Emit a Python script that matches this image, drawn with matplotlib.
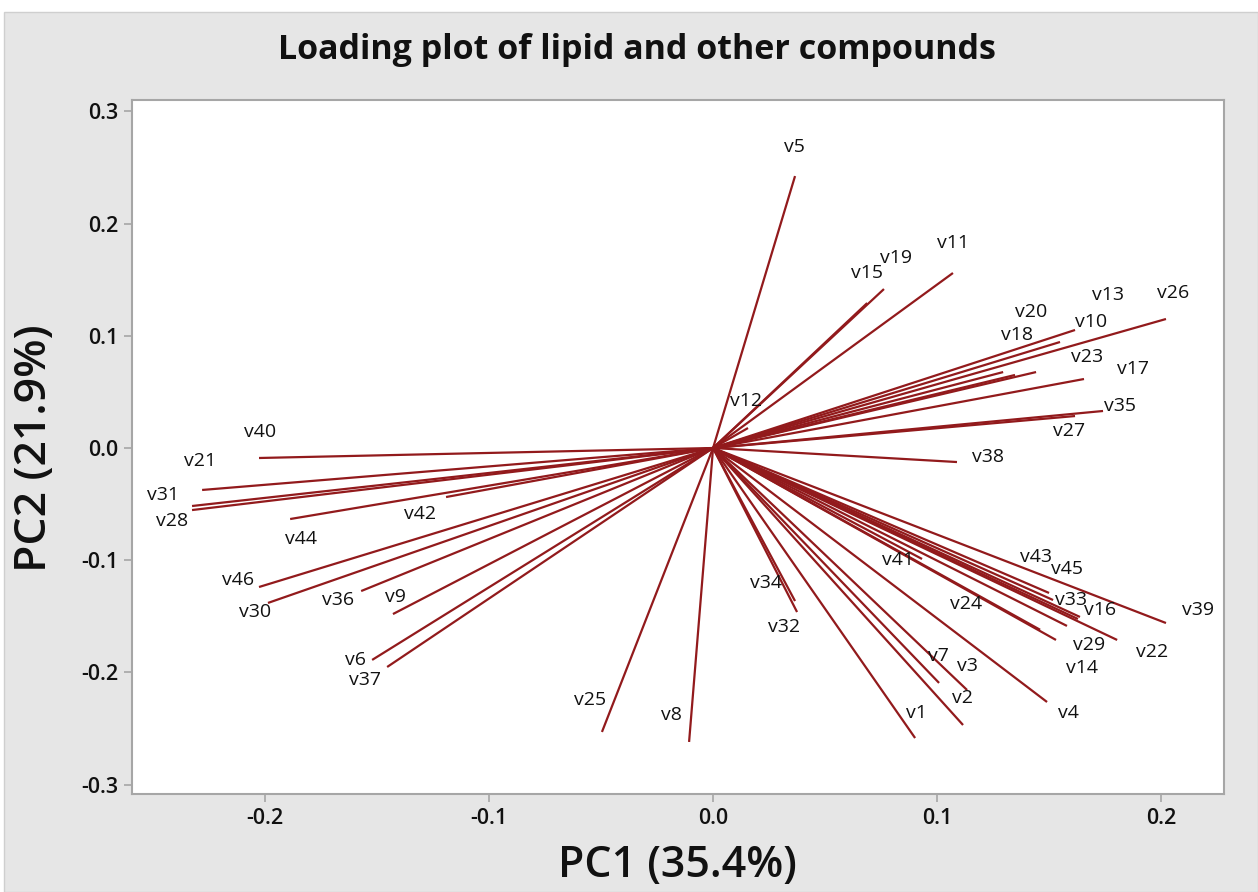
import matplotlib
matplotlib.use("Agg")
import matplotlib.pyplot as plt
from matplotlib.patches import Rectangle

plt.rcParams['font.family'] = ['Open Sans', 'DejaVu Sans']

# ---- data: loadings (PC1, PC2) ----
names = ['v1', 'v2', 'v3', 'v4', 'v5', 'v6', 'v7', 'v8', 'v9', 'v10',
         'v11', 'v12', 'v13', 'v14', 'v15', 'v16', 'v17', 'v18', 'v19', 'v20',
         'v21', 'v22', 'v23', 'v24', 'v25', 'v26', 'v27', 'v28', 'v29', 'v30',
         'v31', 'v32', 'v33', 'v34', 'v35', 'v36', 'v37', 'v38', 'v39', 'v40',
         'v41', 'v42', 'v43', 'v44', 'v45', 'v46']
pc1 = [0.0902, 0.1116, 0.1134, 0.1491, 0.0366, -0.1522, 0.1009, -0.0107, -0.1429, 0.1616,
       0.1071, 0.0156, 0.1442, 0.1531, 0.0688, 0.1638, 0.1348, 0.1295, 0.0763, 0.1549,
       -0.2281, 0.1804, 0.1656, 0.1460, -0.0496, 0.2022, 0.1616, -0.2326, 0.1580, -0.1987,
       -0.2326, 0.0375, 0.1629, 0.0366, 0.1741, -0.1571, -0.1455, 0.1089, 0.2022, -0.2027,
       0.0933, -0.1192, 0.1500, -0.1888, 0.1518, -0.2027]
pc2 = [-0.2585, -0.2469, -0.2157, -0.2264, 0.2424, -0.1889, -0.2094, -0.2620, -0.1480, 0.1052,
       0.1560, 0.0178, 0.0677, -0.1711, 0.1292, -0.1506, 0.0651, 0.0677, 0.1417, 0.0945,
       -0.0374, -0.1711, 0.0615, -0.1620, -0.2531, 0.1150, 0.0285, -0.0553, -0.1586, -0.1381,
       -0.0517, -0.1462, -0.1524, -0.1364, 0.0330, -0.1275, -0.1952, -0.0125, -0.1560, -0.0089,
       -0.0989, -0.0437, -0.1292, -0.0633, -0.1355, -0.1239]

x_ticks = [-0.2, -0.1, 0.0, 0.1, 0.2]
y_ticks = [-0.3, -0.2, -0.1, 0.0, 0.1, 0.2, 0.3]

# label offsets (pixels) from line end, to mimic placement in the reference
label_dx = [1, -1, 0, 21, -1, -17, -1, -18, 2, 16,
            0, -2, 72, 26, 0, 20, 118, 14, 12, -29,
            -2, 35, 3, -74, -12, 7, -6, -20, 22, -13,
            -29, -13, -7, -29, 17, -23, -22, 31, 32, 1,
            -24, -26, -13, 11, 14, -21]
label_dy = [25, 27, 24, -11, 29, 0, 27, 27, 17, 8,
            30, 27, 77, -28, 30, 7, 6, 37, 31, 30,
            29, -12, 22, 26, 32, 26, -15, -11, -19, -9,
            11, -15, 19, 18, 5, -9, -13, 5, 13, 26,
            -1, -17, 36, -20, 31, 7]

W, H = 1258, 892
fig = plt.figure(figsize=(W / 100, H / 100), dpi=100, facecolor='white')
fig.patches.append(Rectangle((4 / W, 0), 1 - 4 / W, 1 - 12 / H, transform=fig.transFigure,
                             facecolor='#e6e6e6', edgecolor='#cfcfcf', lw=1.0, zorder=-10))

ax = fig.add_axes([132 / W, 1 - 794 / H, (1224 - 132) / W, (794 - 100) / H])
ax.set_facecolor('white')

line_color = '#921a1c'
for n, x, y, dx, dy in zip(names, pc1, pc2, label_dx, label_dy):
    ax.plot([0, x], [0, y], color=line_color, lw=1.6, solid_capstyle='butt')
    ax.annotate(n, (x, y), xytext=(dx, dy), textcoords='offset pixels',
                ha='center', va='center', fontsize=14, color='#111111')

ax.set_xlim(-0.2594, 0.2281)
ax.set_ylim(-0.3084, 0.3102)
ax.set_xticks(x_ticks)
ax.set_yticks(y_ticks)
ax.set_xticklabels([f'{t:.1f}' for t in x_ticks])
ax.set_yticklabels([f'{t:.1f}' for t in y_ticks])
for s in ax.spines.values():
    s.set_color('#a6a6a6')
    s.set_linewidth(1.5)
ax.tick_params(direction='out', length=6, width=1.2, color='#a6a6a6',
               labelsize=15.5, labelcolor='#111111', pad=4)
for lab in ax.get_xticklabels() + ax.get_yticklabels():
    lab.set_fontweight('semibold')

fig.text(637 / W, 1 - 50 / H, 'Loading plot of lipid and other compounds',
         ha='center', va='center', fontsize=24.5, fontweight='bold', color='#111111')
fig.text(677 / W, 1 - 866 / H, 'PC1 (35.4%)', ha='center', va='center',
         fontsize=31, fontweight='semibold', color='#111111')
fig.text(35 / W, 1 - 448 / H, 'PC2 (21.9%)', ha='center', va='center',
         fontsize=32, fontweight='semibold', rotation=90, color='#111111')

fig.savefig('out.png', dpi=100, facecolor=fig.get_facecolor())
